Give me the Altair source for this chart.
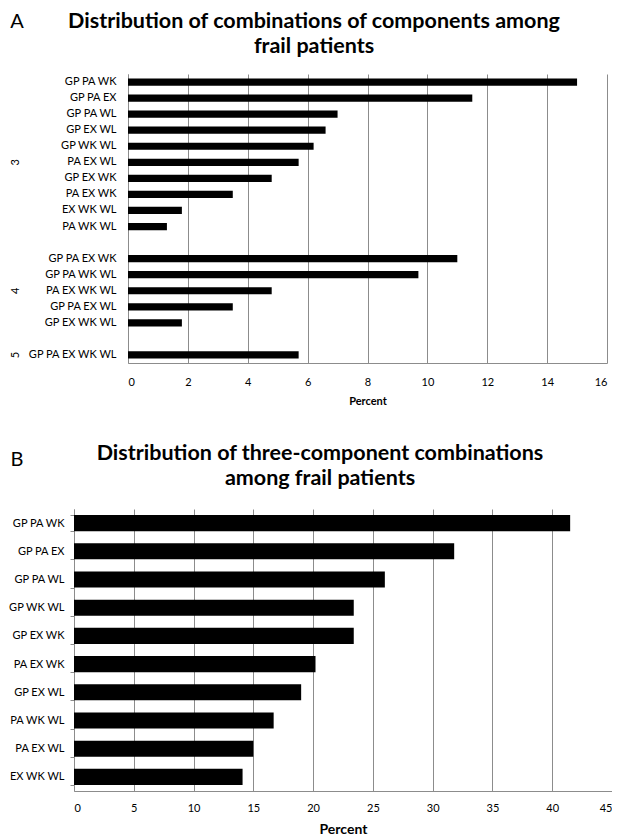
import altair as alt
import pandas as pd

# ---------- Panel A data ----------
a_title = "Distribution of combinations of components among\nfrail patients"
a_labels = ["GP PA WK", "GP PA EX", "GP PA WL", "GP EX WL", "GP WK WL",
            "PA EX WL", "GP EX WK", "PA EX WK", "EX WK WL", "PA WK WL",
            "GP PA EX WK", "GP PA WK WL", "PA EX WK WL", "GP PA EX WL", "GP EX WK WL",
            "GP PA EX WK WL"]
a_values = [15.0, 11.5, 7.0, 6.6, 6.2, 5.7, 4.8, 3.5, 1.8, 1.3,
            11.0, 9.7, 4.8, 3.5, 1.8,
            5.7]
a_domain = ["GP PA WK", "GP PA EX", "GP PA WL", "GP EX WL", "GP WK WL",
            "PA EX WL", "GP EX WK", "PA EX WK", "EX WK WL", "PA WK WL",
            "sp1",
            "GP PA EX WK", "GP PA WK WL", "PA EX WK WL", "GP PA EX WL", "GP EX WK WL",
            "sp2",
            "GP PA EX WK WL"]
group_names = ["3", "4", "5"]
group_rows = ["PA EX WL", "PA EX WK WL", "GP PA EX WK WL"]
a_ticks = [0, 2, 4, 6, 8, 10, 12, 14, 16]

# ---------- Panel B data ----------
b_title = "Distribution of three-component combinations\namong frail patients"
b_labels = ["GP PA WK", "GP PA EX", "GP PA WL", "GP WK WL", "GP EX WK",
            "PA EX WK", "GP EX WL", "PA WK WL", "PA EX WL", "EX WK WL"]
b_values = [41.5, 31.8, 26.0, 23.4, 23.4, 20.2, 19.0, 16.7, 15.0, 14.1]
b_ticks = [0, 5, 10, 15, 20, 25, 30, 35, 40, 45]

FONT = "Lato"
GRID = "#8c8c8c"
LBL = 11
A_SHIFT = 54      # panel A plot starts this far right of panel B's
A_END = 533
B_W = 538

df_a = pd.DataFrame({"label": a_labels, "value": a_values})
df_g = pd.DataFrame({"label": group_rows, "name": group_names})
df_b = pd.DataFrame({"label": b_labels, "value": b_values})


def text_layer(txt, x, y, size, weight="normal"):
    return alt.Chart(pd.DataFrame({"t": [txt]})).mark_text(
        fontSize=size, font=FONT, fontWeight=weight, color="#000",
        lineBreak="\n", lineHeight=25, baseline="top", align="center").encode(
        text="t:N", x=alt.value(x), y=alt.value(y))


# ---------- Panel A ----------
ya_scale = alt.Scale(domain=a_domain, paddingInner=0.55, paddingOuter=0.275)
ya = alt.Y("label:N", scale=ya_scale, sort=None,
           axis=alt.Axis(title=None, ticks=False, grid=False, offset=-A_SHIFT,
                         labelExpr="indexof(datum.label, 'sp') == 0 ? '' : datum.label",
                         domainColor=GRID, labelPadding=12, labelFontSize=LBL,
                         labelFont=FONT, labelColor="#000"))
xa = alt.X("value:Q", scale=alt.Scale(domain=[0, 16], nice=False, range=[A_SHIFT, A_END]),
           axis=alt.Axis(title="Percent", values=a_ticks, grid=True, gridColor=GRID,
                         ticks=False, domainColor=GRID, labelPadding=13,
                         labelFontSize=LBL, labelFont=FONT, labelColor="#000",
                         titleFont=FONT, titleFontSize=11, titleFontWeight="bold",
                         titleColor="#000", titlePadding=8))

bars_a = alt.Chart(df_a).mark_bar(color="#000").encode(x=xa, y=ya)
grp_a = alt.Chart(df_g).mark_text(angle=270, fontSize=LBL, font=FONT, color="#000").encode(
    y=alt.Y("label:N", scale=ya_scale, sort=None),
    x=alt.value(A_SHIFT - 112),
    text="name:N")
letter_a = text_layer("A", A_SHIFT - 111, -62, 20)
title_a = text_layer(a_title, A_SHIFT + 186, -63, 21.5, "bold")

chart_a = alt.layer(bars_a, grp_a, letter_a, title_a).properties(width=A_END, height=289)

# ---------- Panel B ----------
yb = alt.Y("label:N", scale=alt.Scale(domain=b_labels, paddingInner=0.43, paddingOuter=0.215),
           sort=None,
           axis=alt.Axis(title=None, ticks=True, tickBand="extent", tickSize=4,
                         tickColor=GRID, grid=False, domainColor=GRID,
                         labelPadding=6, labelFontSize=LBL, labelFont=FONT,
                         labelColor="#000"))
xb = alt.X("value:Q", scale=alt.Scale(domain=[0, 45], nice=False),
           axis=alt.Axis(title="Percent", values=b_ticks, grid=True, gridColor=GRID,
                         ticks=False, domainColor=GRID, labelPadding=11, labelFlush=True,
                         labelFontSize=LBL, labelFont=FONT, labelColor="#000",
                         titleFont=FONT, titleFontSize=14, titleFontWeight="bold",
                         titleColor="#000", titlePadding=9))

bars_b = alt.Chart(df_b).mark_bar(color="#000").encode(x=xb, y=yb)
letter_b = text_layer("B", -57, -59, 20)
title_b = text_layer(b_title, 246, -66, 21.5, "bold")

chart_b = alt.layer(bars_b, letter_b, title_b).properties(width=B_W, height=282)

chart = alt.concat(chart_a, chart_b, columns=1, spacing=37).properties(
    padding={"top": 3, "left": 0, "right": 0, "bottom": 0}
).configure_view(stroke=None)

chart.save("out.html", embed_options={"renderer": "svg", "actions": False})
